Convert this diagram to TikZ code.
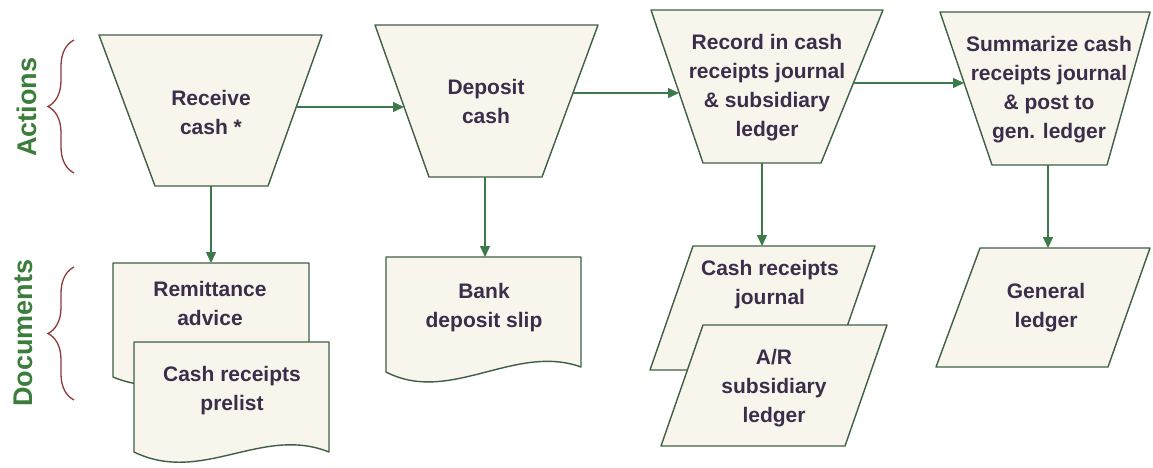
\documentclass[tikz,border=0pt]{standalone}
\usepackage{fontspec}
\setmainfont{Liberation Sans}
\usetikzlibrary{arrows.meta,decorations.pathreplacing}
\definecolor{txt}{HTML}{3B2E4A}
\definecolor{shfill}{HTML}{F8F5EC}
\definecolor{shline}{HTML}{3F5F45}
\definecolor{arrgreen}{HTML}{3D7A4A}
\definecolor{lblgreen}{HTML}{3B7D3B}
\definecolor{bracered}{HTML}{8E3B3B}
\tikzset{
  shapebox/.style={draw=shline, fill=shfill, line width=1.4pt, line join=round},
  lbl/.style={text=txt, font=\bfseries\fontsize{21}{29}\selectfont, align=center, inner sep=0pt},
  side/.style={text=lblgreen, font=\bfseries\fontsize{27}{30}\selectfont, rotate=90, inner sep=0pt},
  brc/.style={draw=bracered, line width=1.3pt, decorate, decoration={brace, amplitude=26pt}},
  arr/.style={draw=arrgreen, line width=1.4pt, -{Triangle[length=11pt,width=10pt]}}
}
\begin{document}
\begin{tikzpicture}[x=1pt,y=-1pt]
\useasboundingbox (0,0) rectangle (1153,467);
\fill[white] (0,0) rectangle (1153,467);

% side labels and braces
\node[side] (actions) at (27,107) {Actions};
\node[side] (documents) at (23,333) {Documents};
\coordinate (b1t) at (74,40);
\coordinate (b1b) at (74,173);
\coordinate (b2t) at (74,267);
\coordinate (b2b) at (74,400);
\draw[brc] (b1b) -- (b1t);
\draw[brc] (b2b) -- (b2t);

% action shapes (inverted trapezoids)
\draw[shapebox] (99,35) -- (322,35) -- (268,186) -- (155,186) -- cycle;
\node[lbl] (receive) at (211,112) {Receive\\cash *};
\coordinate (receive-e) at (296,107);
\coordinate (receive-s) at (211,186);

\draw[shapebox] (375,25) -- (598,25) -- (542,177) -- (429,177) -- cycle;
\node[lbl] (deposit) at (486,101) {Deposit\\cash};
\coordinate (deposit-w) at (404,107);
\coordinate (deposit-e) at (573,93);
\coordinate (deposit-s) at (485,177);

\draw[shapebox] (651,10) -- (883,10) -- (821,163) -- (703,163) -- cycle;
\node[lbl] (record) at (767,88) {Record in cash\\receipts journal\\\& subsidiary\\ledger};
\coordinate (record-w) at (679,93);
\coordinate (record-e) at (853,83);
\coordinate (record-s) at (762,163);

\draw[shapebox] (940,12) -- (1150,12) -- (1107,165) -- (992,165) -- cycle;
\node[lbl] (summ) at (1049,90) {Summarize cash\\receipts journal\\\& post to\\gen. ledger};
\coordinate (summ-w) at (964,83);
\coordinate (summ-s) at (1048,165);

% documents
\draw[shapebox] (113,263) -- (309,263) -- (309,377) .. controls (245,352) and (180,405) .. (113,377) -- cycle;
\node[lbl] (remit) at (210,303) {Remittance\\advice};
\coordinate (remit-n) at (211,263);

\draw[shapebox] (134,342) -- (329,342) -- (329,452) .. controls (262,425) and (202,485) .. (134,452) -- cycle;
\node[lbl] (prelist) at (232,391) {Cash receipts\\prelist};

\draw[shapebox] (386,257) -- (581,257) -- (581,367) .. controls (515,343) and (450,405) .. (386,372) -- cycle;
\node[lbl] (bank) at (484,308) {Bank\\deposit slip};
\coordinate (bank-n) at (485,257);

% journals / ledgers (parallelograms)
\draw[shapebox] (693,246) -- (875,246) -- (832,370) -- (650,370) -- cycle;
\node[lbl] (cjournal) at (770,285) {Cash receipts\\journal};
\coordinate (cjournal-n) at (762,246);

\draw[shapebox] (703,325) -- (887,325) -- (845,446) -- (661,446) -- cycle;
\node[lbl] (arledger) at (774,388) {A/R\\subsidiary\\ledger};

\draw[shapebox] (980,248) -- (1150,248) -- (1108,367) -- (936,367) -- cycle;
\node[lbl] (genledger) at (1046,308) {General\\ledger};
\coordinate (genledger-n) at (1048,248);

% connectors
\draw[arr] (receive-e) -- (deposit-w);
\draw[arr] (deposit-e) -- (record-w);
\draw[arr] (record-e) -- (summ-w);
\draw[arr] (receive-s) -- (remit-n);
\draw[arr] (deposit-s) -- (bank-n);
\draw[arr] (record-s) -- (cjournal-n);
\draw[arr] (summ-s) -- (genledger-n);
\end{tikzpicture}
\end{document}
